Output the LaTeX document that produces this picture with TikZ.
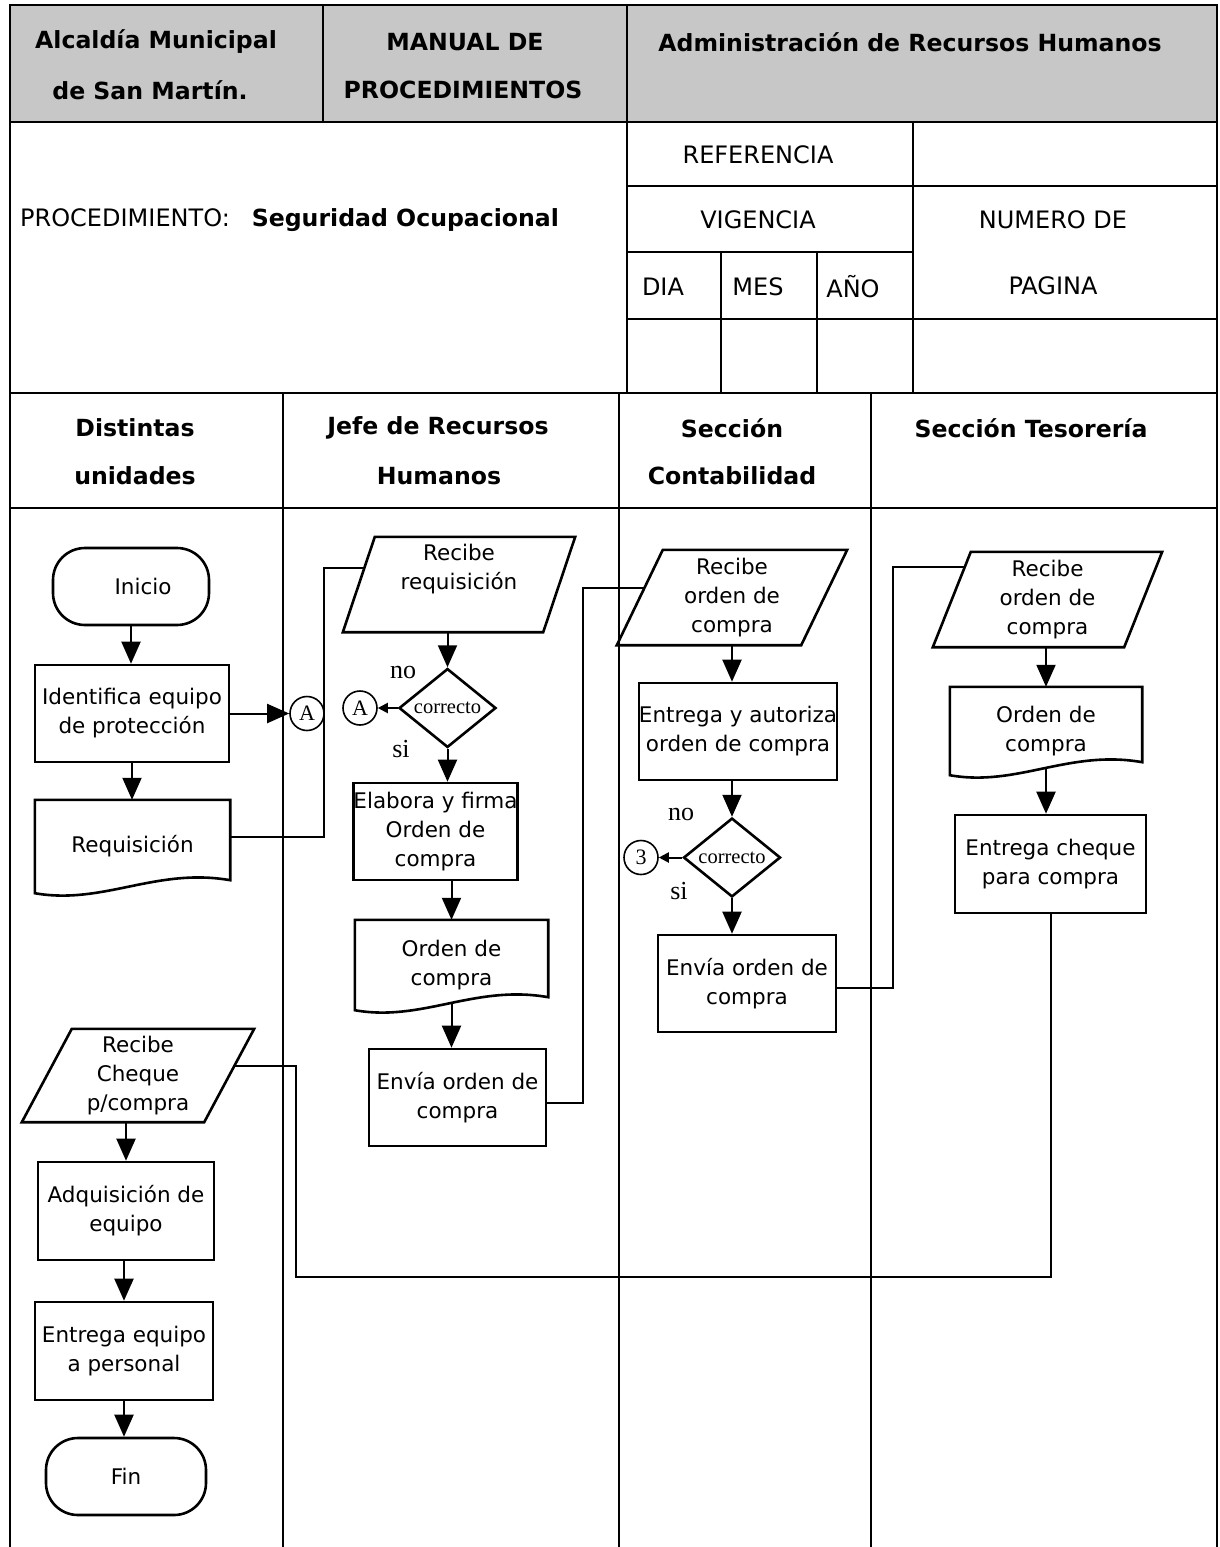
\documentclass[tikz,border=0pt]{standalone}
\usepackage{fontspec}
\setmainfont{DejaVu Sans}
\newfontfamily\tmsfont{Liberation Serif}
\usetikzlibrary{arrows.meta,shapes.geometric,calc}

% outline of a parallelogram around an invisible body node (#2 = slant)
\newcommand\pgramline[2]{%
  \draw[shapeline] ($(#1.north west)+(#2,0)$) -- (#1.north east)
    -- ($(#1.south east)-(#2,0)$) -- (#1.south west) -- cycle;}
% outline of a document symbol with a wavy lower edge
\newcommand\docline[1]{%
  \draw[shapeline] (#1.south west) -- (#1.north west) -- (#1.north east)
    -- ($(#1.south east)+(0,-13)$)
    .. controls ($(#1.south west)!0.62!(#1.south east)+(0,-26)$)
    and ($(#1.south west)!0.35!(#1.south east)+(0,12)$) .. (#1.south west) -- cycle;}

\begin{document}
\begin{tikzpicture}[x=1pt,y=-1pt,
  frame/.style={line width=2pt},
  shapeline/.style={line width=2.6pt},
  conn/.style={line width=2pt},
  arr/.style={conn,-{Triangle[length=22pt,width=19pt]}},
  sarr/.style={conn,-{Triangle[length=10pt,width=10pt]}},
  hdr/.style={font=\fontsize{23.6}{29}\selectfont\bfseries,inner sep=0pt},
  cell/.style={font=\fontsize{24}{30}\selectfont,inner sep=0pt},
  flow/.style={font=\fontsize{21.5}{29}\selectfont,align=center,inner sep=0pt},
  procbox/.style 2 args={flow,draw,shapeline,minimum width=#1,minimum height=#2},
  termbox/.style 2 args={flow,draw,shapeline,rounded corners=32pt,minimum width=#1,minimum height=#2},
  bodybox/.style 2 args={flow,minimum width=#1,minimum height=#2},
  decbox/.style={diamond,draw,shapeline,minimum width=97pt,minimum height=76pt,inner sep=0pt,
    font=\tmsfont\fontsize{20.5}{20.5}\selectfont},
  conbox/.style={circle,draw,line width=1.6pt,minimum size=34pt,inner sep=0pt,
    font=\tmsfont\fontsize{22}{22}\selectfont},
  lbl/.style={font=\tmsfont\fontsize{26}{26}\selectfont,inner sep=0pt}]

\useasboundingbox (0,0) rectangle (1220,1547);

% ---------- title block ----------
\fill[black!22] (10,5) rectangle (1217,122);
\draw[frame] (10,1547) -- (10,5) -- (1217,5) -- (1217,1547);
\draw[frame] (10,122) -- (1217,122);
\draw[frame] (323,5) -- (323,122);
\draw[frame] (627,5) -- (627,393);
\draw[frame] (913,122) -- (913,393);
\draw[frame] (627,186) -- (1217,186);
\draw[frame] (627,252) -- (913,252);
\draw[frame] (627,319) -- (1217,319);
\draw[frame] (721,252) -- (721,393);
\draw[frame] (817,252) -- (817,393);
\draw[frame] (10,393) -- (1217,393);
\draw[frame] (10,508) -- (1217,508);
% swimlane separators
\draw[frame] (283,393) -- (283,1547);
\draw[frame] (619,393) -- (619,1547);
\draw[frame] (871,393) -- (871,1547);

\node[hdr] (h1) at (156,42) {Alcaldía Municipal};
\node[hdr] (h2) at (150,90) {de San Martín.};
\node[hdr] (h3) at (465,42) {MANUAL DE};
\node[hdr] (h4) at (463,90) {PROCEDIMIENTOS};
\node[hdr] (h5) at (910,42) {Administración de Recursos Humanos};

\node[cell,anchor=west] (proc) at (20,220)
  {PROCEDIMIENTO:\hspace{22pt}{\fontsize{23.6}{29}\selectfont\bfseries Seguridad Ocupacional}};
\node[cell] (ref) at (758,155) {REFERENCIA};
\node[cell] (vig) at (758,220) {VIGENCIA};
\node[cell] (dia) at (663,287) {DIA};
\node[cell] (mes) at (758,287) {MES};
\node[cell] (anio) at (853,287) {AÑO};
\node[cell] (num) at (1053,220) {NUMERO DE};
\node[cell] (pag) at (1053,286) {PAGINA};

\node[hdr] (l1a) at (135,428) {Distintas};
\node[hdr] (l1b) at (135,476) {unidades};
\node[hdr] (l2a) at (438,428) {Jefe de Recursos};
\node[hdr] (l2b) at (439,476) {Humanos};
\node[hdr] (l3a) at (732,428) {Sección};
\node[hdr] (l3b) at (732,476) {Contabilidad};
\node[hdr] (l4a) at (1031,428) {Sección Tesorería};

% ---------- Distintas unidades ----------
\node[termbox={156pt}{77pt}] (ini) at (131,586.5) {\hspace*{24pt}Inicio};
\node[procbox={194pt}{97pt}] (iden) at (132,713.5) {Identifica equipo\\de protección};
\node[bodybox={195pt}{93pt}] (req) at (132.5,846.5) {Requisición};
\docline{req}
\node[conbox] (cA1) at (307,713.5) {A};

\node[bodybox={232pt}{93pt}] (pg4) at (138,1075.5) {Recibe\\Cheque\\p/compra};
\pgramline{pg4}{50}
\node[procbox={176pt}{98pt}] (adq) at (126,1211) {Adquisición de\\equipo};
\node[procbox={178pt}{98pt}] (entp) at (124,1351) {Entrega equipo\\a personal};
\node[termbox={160pt}{77pt}] (fin) at (126,1476.5) {Fin};

% ---------- Jefe de Recursos Humanos ----------
\node[bodybox={232pt}{95pt},text depth=35pt] (pg1) at (459,584.5) {Recibe\\requisición};
\pgramline{pg1}{32}
\node[decbox] (dec1) at (447.5,708) {correcto};
\node[conbox] (cA2) at (360,708) {A};
\node[lbl] (no1) at (403,672) {no};
\node[lbl] (si1) at (401,749) {si};
\node[procbox={147pt}{97pt}] (elab) at (435.5,831.5) {Elabora y firma\\Orden de\\compra};
\node[bodybox={193pt}{90pt}] (ord1) at (451.5,965) {Orden de\\compra};
\docline{ord1}
\node[procbox={177pt}{97pt}] (env1) at (457.5,1097.5) {Envía orden de\\compra};

% ---------- Sección Contabilidad ----------
\node[bodybox={230pt}{95pt}] (pg2) at (732,597.5) {Recibe\\orden de\\compra};
\pgramline{pg2}{46}
\node[procbox={196pt}{97pt}] (ent) at (738,731.5) {Entrega y autoriza\\orden de compra};
\node[decbox] (dec2) at (732,857.5) {correcto};
\node[conbox] (c3) at (641,857.5) {3};
\node[lbl] (no2) at (681,814) {no};
\node[lbl] (si2) at (679,891) {si};
\node[procbox={178pt}{97pt}] (env2) at (747,983.5) {Envía orden de\\compra};

% ---------- Sección Tesorería ----------
\node[bodybox={229pt}{95pt}] (pg3) at (1047.5,599.5) {Recibe\\orden de\\compra};
\pgramline{pg3}{38}
\node[bodybox={192pt}{88pt}] (ord2) at (1046,731) {Orden de\\compra};
\docline{ord2}
\node[procbox={191pt}{98pt}] (chq) at (1050.5,864) {Entrega cheque\\para compra};

% entry points on the slanted sides
\coordinate (pg1in) at ($(pg1.north west)!0.33!(pg1.south west)+(21,0)$);
\coordinate (pg2in) at ($(pg2.north west)!0.4!(pg2.south west)+(27.6,0)$);
\coordinate (pg3in) at ($(pg3.north west)!0.16!(pg3.south west)+(32,0)$);
\coordinate (pg4in) at ($(pg4.north east)!0.4!(pg4.south east)+(-20,0)$);

% ---------- flow arrows ----------
\draw[arr] (ini.south) -- (ini.south |- iden.north);
\draw[arr] (iden.south) -- (iden.south |- req.north);
\draw[arr] (iden.east) -- (cA1.west);
\draw[arr] (pg1.south -| dec1.north) -- (dec1.north);
\draw[sarr] (dec1.west) -- (cA2.east);
\draw[arr] (dec1.south) -- (dec1.south |- elab.north);
\draw[arr] (ord1.north |- elab.south) -- (ord1.north);
\draw[arr] ($(ord1.south)+(0,-7)$) -- (ord1.south |- env1.north);

\draw[arr] (pg2.south) -- (pg2.south |- ent.north);
\draw[arr] (ent.south -| dec2.north) -- (dec2.north);
\draw[sarr] (dec2.west) -- (c3.east);
\draw[arr] (dec2.south) -- (dec2.south |- env2.north);

\draw[arr] (pg3.south -| ord2.north) -- (ord2.north);
\draw[arr] ($(ord2.south)+(0,-7)$) -- (ord2.south |- chq.north);

\draw[arr] (pg4.south -| adq.north) -- (adq.north);
\draw[arr] (adq.south -| entp.north) -- (entp.north);
\draw[arr] (entp.south) -- (entp.south |- fin.north);

% ---------- lane-crossing connectors ----------
\draw[conn] ($(req.east)+(0,-10)$) -| ($(pg1in)+(-40,0)$) -- (pg1in);
\draw[conn] ($(env1.east)+(0,5)$) -| ($(pg2in)+(-61,0)$) -- (pg2in);
\draw[conn] ($(env2.east)+(0,4.5)$) -| ($(pg3in)+(-72,0)$) -- (pg3in);
\draw[conn] (chq.south) |- (296,1277) |- (pg4in);
\end{tikzpicture}
\end{document}
